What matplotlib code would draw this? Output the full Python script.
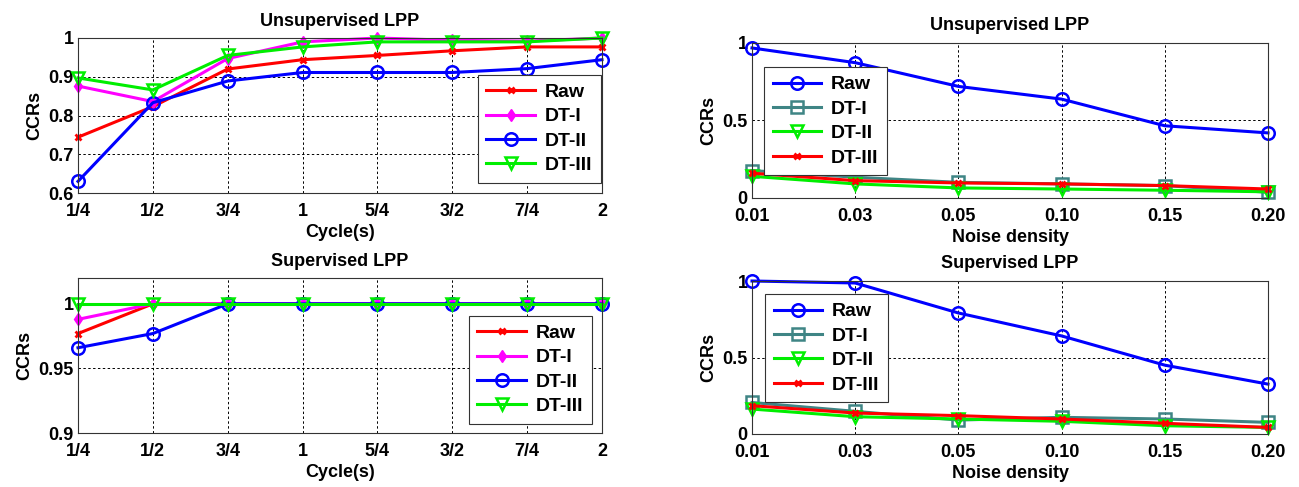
import matplotlib
matplotlib.use("Agg")
import matplotlib.pyplot as plt
import numpy as np

plt.rcParams["font.family"] = ["Liberation Sans", "DejaVu Sans"]
plt.rcParams["font.weight"] = "bold"

cycles = ["1/4", "1/2", "3/4", "1", "5/4", "3/2", "7/4", "2"]
noise = ["0.01", "0.03", "0.05", "0.10", "0.15", "0.20"]

# unsupervised LPP vs cycles
uns_cyc_raw = [0.744, 0.823, 0.920, 0.944, 0.955, 0.967, 0.977, 0.977]
uns_cyc_dt1 = [0.876, 0.836, 0.947, 0.990, 1.000, 0.994, 0.992, 1.000]
uns_cyc_dt2 = [0.630, 0.833, 0.889, 0.911, 0.911, 0.911, 0.921, 0.944]
uns_cyc_dt3 = [0.897, 0.866, 0.955, 0.977, 0.990, 0.990, 0.990, 1.000]

# supervised LPP vs cycles
sup_cyc_raw = [0.977, 1, 1, 1, 1, 1, 1, 1]
sup_cyc_dt1 = [0.988, 1, 1, 1, 1, 1, 1, 1]
sup_cyc_dt2 = [0.966, 0.977, 1, 1, 1, 1, 1, 1]
sup_cyc_dt3 = [1, 1, 1, 1, 1, 1, 1, 1]

# unsupervised LPP vs noise density
uns_noi_raw = [0.968, 0.873, 0.720, 0.638, 0.466, 0.420]
uns_noi_dt1 = [0.177, 0.134, 0.101, 0.091, 0.080, 0.037]
uns_noi_dt2 = [0.140, 0.091, 0.065, 0.058, 0.050, 0.040]
uns_noi_dt3 = [0.160, 0.112, 0.097, 0.091, 0.080, 0.058]

# supervised LPP vs noise density
sup_noi_raw = [1.000, 0.987, 0.791, 0.641, 0.450, 0.326]
sup_noi_dt1 = [0.206, 0.148, 0.091, 0.109, 0.098, 0.076]
sup_noi_dt2 = [0.163, 0.113, 0.098, 0.083, 0.054, 0.043]
sup_noi_dt3 = [0.185, 0.137, 0.120, 0.098, 0.070, 0.043]

RED, MAG, BLUE, GREEN, TEAL = "#ff0000", "#ff00ff", "#0000ff", "#00ee00", "#3f8585"
LW = 2.2
FS = 13
LEG_FS = 14


def style_axes(ax, labels, ylim, yticks, ylabels, xlabel, title):
    ax.set_xlim(0, len(labels) - 1)
    ax.set_xticks(range(len(labels)))
    ax.set_xticklabels(labels, fontsize=FS, fontweight="bold")
    ax.set_ylim(*ylim)
    ax.set_yticks(yticks)
    ax.set_yticklabels(ylabels, fontsize=FS, fontweight="bold")
    ax.grid(True, color="black", linestyle=(0, (2.5, 2.5)), linewidth=0.7)
    ax.tick_params(axis="x", length=0, pad=7)
    ax.tick_params(axis="y", length=0, pad=3)
    for s in ax.spines.values():
        s.set_linewidth(0.8)
        s.set_color("#333333")
    ax.set_xlabel(xlabel, fontsize=FS, fontweight="bold", labelpad=3)
    ax.set_ylabel("CCRs", fontsize=FS, fontweight="bold", labelpad=4)
    ax.set_title(title, fontsize=FS, fontweight="bold", pad=9)


def add_legend(ax, loc, anchor):
    leg = ax.legend(loc=loc, fontsize=LEG_FS, handlelength=2.5, handletextpad=0.5,
                    borderpad=0.45, labelspacing=0.35, borderaxespad=0, fancybox=False,
                    framealpha=1, edgecolor="#333333", bbox_to_anchor=anchor)
    leg.get_frame().set_linewidth(0.8)


def cycle_plot(ax, raw, dt1, dt2, dt3, anchor):
    x = np.arange(len(cycles))
    ax.plot(x, raw, color=RED, lw=LW, marker="x", ms=4, mew=2, label="Raw", clip_on=False)
    ax.plot(x, dt1, color=MAG, lw=LW, marker="d", ms=6, label="DT-I", clip_on=False)
    ax.plot(x, dt2, color=BLUE, lw=LW, marker="o", ms=9, mfc="none", mew=1.8, label="DT-II", clip_on=False)
    ax.plot(x, dt3, color=GREEN, lw=LW, marker="v", ms=9, mfc="none", mew=1.8, label="DT-III", clip_on=False)
    add_legend(ax, "lower right", anchor)


def noise_plot(ax, raw, dt1, dt2, dt3, anchor):
    x = np.arange(len(noise))
    ax.plot(x, raw, color=BLUE, lw=LW, marker="o", ms=9, mfc="none", mew=1.8, label="Raw", clip_on=False)
    ax.plot(x, dt1, color=TEAL, lw=LW, marker="s", ms=8, mfc="none", mew=1.8, label="DT-I", clip_on=False)
    ax.plot(x, dt2, color=GREEN, lw=LW, marker="v", ms=9, mfc="none", mew=1.8, label="DT-II", clip_on=False)
    ax.plot(x, dt3, color=RED, lw=LW, marker="x", ms=4, mew=2, label="DT-III", clip_on=False)
    add_legend(ax, "upper left", anchor)


fig = plt.figure(figsize=(12.99, 4.87), dpi=100)
W, H = 1299, 487


def add_axes(x0, y0, x1, y1):
    return fig.add_axes([x0 / W, 1 - y1 / H, (x1 - x0) / W, (y1 - y0) / H])


ax1 = add_axes(78, 38, 602, 193)
cycle_plot(ax1, uns_cyc_raw, uns_cyc_dt1, uns_cyc_dt2, uns_cyc_dt3, (0.998, 0.065))
style_axes(ax1, cycles, (0.6, 1.0), [0.6, 0.7, 0.8, 0.9, 1.0],
           ["0.6", "0.7", "0.8", "0.9", "1"], "Cycle(s)", "Unsupervised LPP")

ax2 = add_axes(78, 278, 602, 433)
cycle_plot(ax2, sup_cyc_raw, sup_cyc_dt1, sup_cyc_dt2, sup_cyc_dt3, (0.981, 0.058))
style_axes(ax2, cycles, (0.9, 1.02), [0.9, 0.95, 1.0],
           ["0.9", "0.95", "1"], "Cycle(s)", "Supervised LPP")

ax3 = add_axes(752, 43, 1268, 198)
noise_plot(ax3, uns_noi_raw, uns_noi_dt1, uns_noi_dt2, uns_noi_dt3, (0.023, 0.845))
style_axes(ax3, noise, (0, 1), [0, 0.5, 1], ["0", "0.5", "1"],
           "Noise density", "Unsupervised LPP")

ax4 = add_axes(752, 281, 1268, 434)
noise_plot(ax4, sup_noi_raw, sup_noi_dt1, sup_noi_dt2, sup_noi_dt3, (0.025, 0.915))
style_axes(ax4, noise, (0, 1), [0, 0.5, 1], ["0", "0.5", "1"],
           "Noise density", "Supervised LPP")

fig.savefig("out.png", dpi=100)
